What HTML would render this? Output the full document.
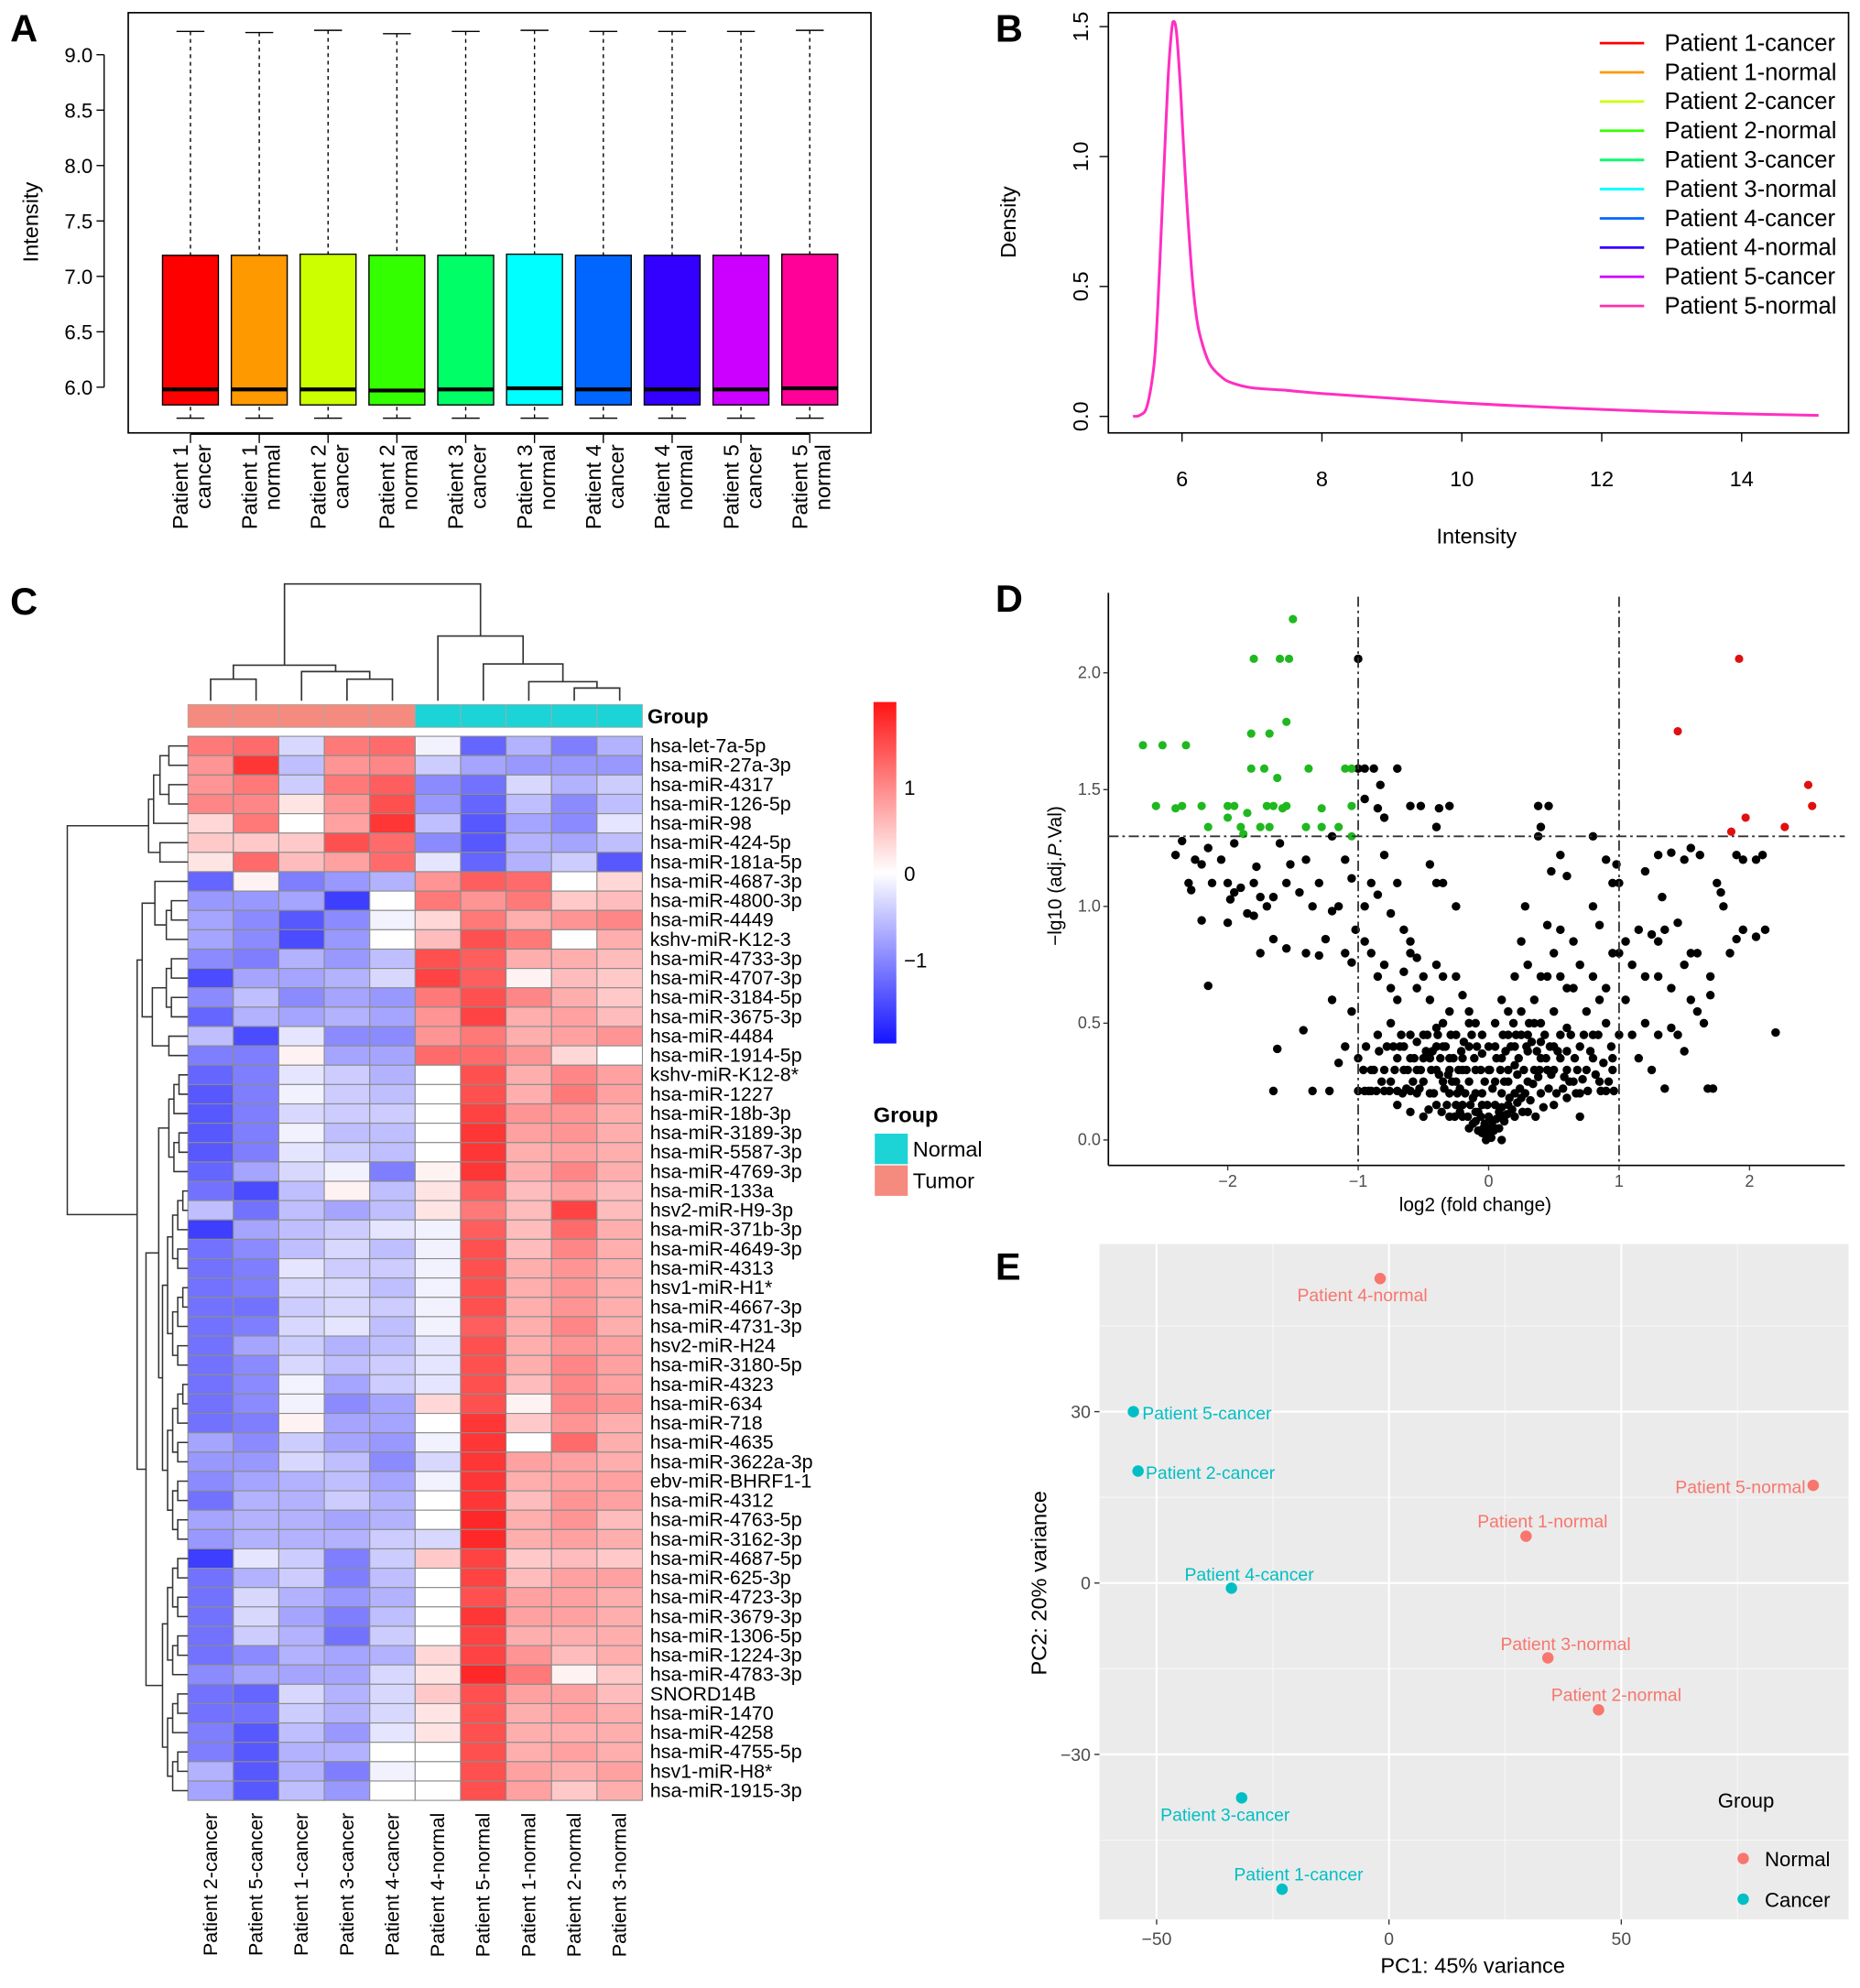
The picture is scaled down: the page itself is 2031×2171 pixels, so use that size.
<!DOCTYPE html>
<html><head><meta charset="utf-8">
<style>
html,body{margin:0;padding:0;background:#fff;}
svg{display:block;font-family:"Liberation Sans",Arial,sans-serif;}
</style></head>
<body>
<svg id="fig" xmlns="http://www.w3.org/2000/svg" width="2031" height="2171" viewBox="0 0 1465 1566">
<rect x="0" y="0" width="1465" height="1566" fill="#fff"/>
<g id="pA"></g>
<g id="pB"></g>
<g id="pC"></g>
<g id="pD"></g>
<g id="pE"></g>
</svg>
<script>
// ---------- Panel A data ----------
const boxSamples = ["Patient 1|cancer","Patient 1|normal","Patient 2|cancer","Patient 2|normal","Patient 3|cancer","Patient 3|normal","Patient 4|cancer","Patient 4|normal","Patient 5|cancer","Patient 5|normal"];
const boxLow = [5.72,5.72,5.72,5.72,5.72,5.72,5.72,5.72,5.72,5.72];
const boxQ1 = [5.84,5.84,5.84,5.84,5.84,5.84,5.84,5.84,5.84,5.84];
const boxMed = [5.98,5.98,5.98,5.97,5.98,5.99,5.98,5.98,5.98,5.99];
const boxQ3 = [7.19,7.19,7.20,7.19,7.19,7.20,7.19,7.19,7.19,7.20];
const boxHigh = [9.21,9.20,9.22,9.19,9.21,9.22,9.21,9.21,9.21,9.22];
const boxColors = ["#ff0000","#ff9900","#ccff00","#33ff00","#00ff66","#00ffff","#0066ff","#3300ff","#cc00ff","#ff0099"];
const aTicks = [6.0,6.5,7.0,7.5,8.0,8.5,9.0];
// ---------- Panel B data ----------
const densX = [5.3,5.4,5.5,5.6,5.65,5.7,5.75,5.8,5.85,5.88,5.92,5.97,6.02,6.08,6.15,6.22,6.3,6.4,6.55,6.7,7,7.5,8,9,10,11,12,13,14,15.1];
const densY = [0,0.005,0.04,0.2,0.4,0.7,1.0,1.3,1.48,1.52,1.48,1.3,1.05,0.78,0.52,0.36,0.27,0.2,0.155,0.13,0.11,0.1,0.088,0.07,0.052,0.038,0.027,0.017,0.01,0.004];
const bXTicks = [6,8,10,12,14];
const bYTicks = [0.0,0.5,1.0,1.5];
const legendNames = ["Patient 1-cancer","Patient 1-normal","Patient 2-cancer","Patient 2-normal","Patient 3-cancer","Patient 3-normal","Patient 4-cancer","Patient 4-normal","Patient 5-cancer","Patient 5-normal"];
const legendColors = ["#ff0000","#ff9900","#ccff00","#33ff00","#00ff66","#00ffff","#0066ff","#3300ff","#cc00ff","#ff33aa"];
// ---------- Panel C data ----------
const hmCols = ["Patient 2-cancer","Patient 5-cancer","Patient 1-cancer","Patient 3-cancer","Patient 4-cancer","Patient 4-normal","Patient 5-normal","Patient 1-normal","Patient 2-normal","Patient 3-normal"];
const hmGroups = ["Tumor","Tumor","Tumor","Tumor","Tumor","Normal","Normal","Normal","Normal","Normal"];
const hmRows = ["hsa-let-7a-5p","hsa-miR-27a-3p","hsa-miR-4317","hsa-miR-126-5p","hsa-miR-98","hsa-miR-424-5p","hsa-miR-181a-5p","hsa-miR-4687-3p","hsa-miR-4800-3p","hsa-miR-4449","kshv-miR-K12-3","hsa-miR-4733-3p","hsa-miR-4707-3p","hsa-miR-3184-5p","hsa-miR-3675-3p","hsa-miR-4484","hsa-miR-1914-5p","kshv-miR-K12-8*","hsa-miR-1227","hsa-miR-18b-3p","hsa-miR-3189-3p","hsa-miR-5587-3p","hsa-miR-4769-3p","hsa-miR-133a","hsv2-miR-H9-3p","hsa-miR-371b-3p","hsa-miR-4649-3p","hsa-miR-4313","hsv1-miR-H1*","hsa-miR-4667-3p","hsa-miR-4731-3p","hsv2-miR-H24","hsa-miR-3180-5p","hsa-miR-4323","hsa-miR-634","hsa-miR-718","hsa-miR-4635","hsa-miR-3622a-3p","ebv-miR-BHRF1-1","hsa-miR-4312","hsa-miR-4763-5p","hsa-miR-3162-3p","hsa-miR-4687-5p","hsa-miR-625-3p","hsa-miR-4723-3p","hsa-miR-3679-3p","hsa-miR-1306-5p","hsa-miR-1224-3p","hsa-miR-4783-3p","SNORD14B","hsa-miR-1470","hsa-miR-4258","hsa-miR-4755-5p","hsv1-miR-H8*","hsa-miR-1915-3p"];
const hmValues = [
[1.0,1.1,-0.3,1.0,1.1,-0.1,-1.2,-0.6,-1.0,-0.6],
[0.8,1.5,-0.5,0.8,0.9,-0.4,-0.7,-0.8,-0.8,-0.8],
[0.8,1.0,-0.4,1.0,1.2,-0.9,-1.1,-0.3,-0.6,-0.4],
[0.9,0.9,0.2,0.8,1.3,-0.8,-1.2,-0.5,-0.9,-0.5],
[0.3,1.0,0,0.7,1.5,-0.5,-1.3,-0.7,-0.9,-0.2],
[0.4,0.4,0.4,1.3,1.1,-0.9,-1.3,-0.6,-0.7,-0.5],
[0.2,1.1,0.5,0.7,1.1,-0.2,-1.2,-0.6,-0.4,-1.3],
[-1.2,0.1,-1.0,-0.8,-0.6,0.8,1.2,1.1,0,0.3],
[-0.8,-0.8,-0.7,-1.5,0,1.0,0.8,1.0,0.4,0.5],
[-0.7,-0.9,-1.3,-0.9,-0.1,0.3,1.0,0.6,0.8,0.9],
[-0.7,-0.9,-1.4,-0.8,0,0.5,1.3,1.0,0,0.6],
[-0.9,-1.0,-0.6,-0.8,-0.5,1.3,1.2,0.6,0.6,0.5],
[-1.4,-0.7,-0.7,-0.6,-0.3,1.4,1.2,0.1,0.5,0.4],
[-0.9,-0.5,-0.9,-0.7,-0.8,1.0,1.3,0.9,0.6,0.4],
[-1.2,-0.6,-0.7,-0.6,-0.7,0.8,1.4,0.6,0.7,0.5],
[-0.5,-1.4,-0.2,-0.9,-0.9,0.8,1.0,0.6,0.7,0.8],
[-1.0,-1.0,0.1,-0.7,-0.7,1.1,1.1,0.8,0.3,0],
[-1.2,-1.0,-0.2,-0.4,-0.6,0,1.3,0.6,0.9,0.7],
[-1.3,-1.0,-0.1,-0.4,-0.5,0,1.3,0.6,1.0,0.7],
[-1.3,-1.0,-0.3,-0.4,-0.4,0,1.4,0.8,0.8,0.6],
[-1.3,-1.0,-0.1,-0.5,-0.5,0,1.5,0.7,0.8,0.6],
[-1.3,-1.0,-0.2,-0.4,-0.5,0,1.5,0.6,0.7,0.6],
[-1.2,-0.7,-0.3,-0.1,-1.0,0.1,1.5,0.6,0.9,0.6],
[-1.1,-1.4,-0.5,0.1,-0.5,0.2,1.2,0.5,0.7,0.5],
[-0.5,-1.1,-0.5,-0.7,-0.5,0.2,1.0,0.5,1.4,0.5],
[-1.5,-0.7,-0.5,-0.4,-0.2,-0.1,1.2,0.5,1.1,0.6],
[-1.1,-0.9,-0.5,-0.3,-0.5,-0.1,1.3,0.5,0.9,0.6],
[-1.1,-1.0,-0.2,-0.4,-0.4,-0.1,1.3,0.6,0.8,0.6],
[-1.1,-1.0,-0.3,-0.3,-0.5,-0.1,1.3,0.6,0.8,0.6],
[-1.1,-1.1,-0.4,-0.3,-0.4,-0.1,1.3,0.6,0.8,0.6],
[-1.1,-1.0,-0.3,-0.2,-0.5,-0.1,1.2,0.6,0.9,0.6],
[-1.1,-0.7,-0.4,-0.6,-0.5,-0.2,1.3,0.6,0.8,0.7],
[-1.1,-0.9,-0.3,-0.5,-0.4,-0.2,1.3,0.6,0.9,0.7],
[-1.1,-0.9,-0.1,-0.7,-0.4,-0.2,1.3,0.5,0.9,0.7],
[-1.1,-0.9,-0.1,-0.9,-0.7,0.3,1.3,0.1,0.9,0.8],
[-1.1,-1.0,0.1,-0.7,-0.7,0,1.5,0.4,0.8,0.6],
[-0.7,-0.9,-0.4,-0.7,-0.8,-0.1,1.5,0,1.1,0.6],
[-0.8,-0.8,-0.3,-0.5,-0.9,-0.3,1.5,0.7,0.7,0.6],
[-0.9,-0.7,-0.6,-0.5,-0.7,-0.1,1.5,0.6,0.7,0.7],
[-1.1,-0.6,-0.6,-0.4,-0.6,0,1.5,0.5,0.8,0.7],
[-0.7,-0.6,-0.6,-0.7,-0.6,0,1.6,0.6,0.8,0.5],
[-0.8,-0.6,-0.6,-0.6,-0.4,-0.3,1.6,0.6,0.7,0.6],
[-1.5,-0.2,-0.4,-1.0,-0.4,0.4,1.4,0.4,0.5,0.4],
[-1.1,-0.6,-0.4,-1.0,-0.5,0,1.4,0.5,0.7,0.7],
[-1.1,-0.3,-0.6,-0.8,-0.6,0,1.3,0.7,0.7,0.6],
[-1.1,-0.3,-0.7,-1.0,-0.5,0,1.5,0.7,0.7,0.6],
[-1.1,-0.4,-0.6,-1.1,-0.4,0,1.4,0.6,0.6,0.6],
[-1.1,-0.9,-0.6,-0.7,-0.6,0.3,1.4,0.8,0.5,0.6],
[-0.9,-0.7,-0.7,-0.7,-0.3,0.2,1.6,1.0,0.1,0.4],
[-1.1,-1.2,-0.3,-0.6,-0.3,0.4,1.3,0.7,0.7,0.5],
[-1.1,-1.1,-0.4,-0.6,-0.3,0.2,1.3,0.6,0.7,0.6],
[-1.0,-1.3,-0.5,-0.8,-0.2,0.2,1.3,0.6,0.6,0.6],
[-1.0,-1.3,-0.6,-0.6,0,0,1.3,0.6,0.7,0.6],
[-0.6,-1.3,-0.6,-1.0,-0.1,0,1.3,0.7,0.6,0.7],
[-0.7,-1.3,-0.5,-0.8,0,0,1.3,0.7,0.4,0.6]
];
const cbTicks = [1,0,-1];
// ---------- Panel D data ----------
const greenPts = [[-2.65,1.69],[-2.5,1.69],[-2.32,1.69],[-2.55,1.43],[-2.4,1.42],[-2.35,1.43],[-2.2,1.43],[-2.0,1.43],[-1.95,1.43],[-1.7,1.43],[-1.65,1.43],[-1.55,1.43],[-1.28,1.42],[-1.05,1.43],[-2.0,1.38],[-1.9,1.34],[-1.85,1.40],[-2.15,1.34],[-1.75,1.34],[-1.68,1.34],[-1.4,1.34],[-1.28,1.34],[-1.15,1.34],[-1.88,1.31],[-1.05,1.30],[-1.82,1.59],[-1.72,1.59],[-1.62,1.55],[-1.38,1.59],[-1.1,1.59],[-1.05,1.59],[-1.82,1.74],[-1.68,1.74],[-1.55,1.79],[-1.8,2.06],[-1.6,2.06],[-1.53,2.06],[-1.5,2.23],[-1.58,1.42]];
const redPts = [[1.92,2.06],[1.45,1.75],[2.45,1.52],[2.48,1.43],[1.97,1.38],[1.86,1.32],[2.27,1.34]];
const blackPts = [[-1.0,2.06],[-1.0,1.59],[-0.95,1.59],[-0.88,1.59],[-0.7,1.59],[-0.95,1.46],[-0.6,1.43],[-0.52,1.43],[-0.38,1.42],[-0.3,1.43],[-0.4,1.34],[-0.83,1.52],[-0.85,1.42],[-0.8,1.38],[0.38,1.43],[0.46,1.43],[0.4,1.34],[0.38,1.30],[0.8,1.30],[
-2.4,1.22],[-2.35,1.28],[-2.3,1.1],[-2.28,1.07],[-2.25,1.2],[-2.2,1.18],[-2.15,1.25],[-2.12,1.1],[-2.05,1.2],[-2.0,1.1],[-1.98,1.03],[-1.95,1.06],[-1.9,1.08],[-1.85,0.97],[-1.8,1.1],[-1.78,1.17],[-1.75,1.04],[-1.7,1.0],[-1.65,1.04],[-1.6,1.27],[-1.55,1.1],[-1.52,1.18],[-1.45,1.06],[-1.4,1.2],[-1.35,1.0],[-1.3,1.1],[-1.25,0.86],[-1.2,1.3],[-1.15,1.0],[-1.1,1.2],[-1.05,1.12],[-1.02,0.9],[-0.95,1.0],[-0.9,1.1],[-0.85,1.05],[-0.8,1.22],[-0.75,0.97],[-0.7,1.1],[-0.65,0.9],[-0.6,0.85],[-0.55,0.78],[-0.45,1.18],[-0.4,1.1],[-0.35,1.1],[-0.25,1.0],[-2.2,0.94],[-2.0,0.93],[-1.95,1.27],[-2.15,0.66],[-1.8,0.96],[-1.65,0.86],[-1.75,0.8],[-1.55,0.82],[-1.4,0.8],[-1.3,0.79],[-1.2,0.98],[-1.1,0.8],[-1.05,0.76],[-1.2,0.6],[-1.05,0.55],[-0.95,0.85],[-0.9,0.8],[-0.85,0.7],[-0.8,0.75],[-0.75,0.65],[-0.7,0.6],[-0.65,0.72],[-0.6,0.8],[-0.55,0.65],[-0.5,0.7],[-0.45,0.6],[-0.4,0.75],[-0.35,0.7],[-0.3,0.55],[-0.25,0.7],[-0.2,0.62],[-0.15,0.55],[-0.1,0.5],[-1.42,0.47],[-1.62,0.39],[-1.65,0.21],[-1.35,0.21],[-1.22,0.21],[-1.15,0.33],[-1.1,0.4],[-1.0,0.35],[-0.95,0.21],[-0.9,0.3],[-0.8,0.21],[-0.85,0.45],[-0.75,0.5],[-0.7,0.35],[-0.65,0.4],[-0.6,0.45],[-0.55,0.3],[-0.5,0.45],[-0.45,0.35],[-0.4,0.48],[-0.35,0.4],[-0.3,0.3],[-0.25,0.45],[-0.2,0.35],[-0.15,0.4],[-0.1,0.3],[-0.05,0.2],[0.0,0.1],[
0.05,0.25],[0.1,0.35],[0.15,0.45],[0.2,0.4],[0.25,0.55],[0.3,0.45],[0.35,0.6],[0.4,0.5],[0.45,0.7],[0.5,0.55],[0.55,0.7],[0.6,0.48],[0.65,0.65],[0.7,0.4],[0.75,0.55],[0.8,0.45],[0.85,0.6],[0.9,0.5],[0.95,0.35],[1.0,0.45],[1.05,0.6],[1.1,0.45],[1.15,0.35],[1.2,0.5],[1.25,0.3],[1.3,0.45],[1.35,0.22],[1.4,0.48],[1.45,0.45],[1.5,0.38],[1.55,0.6],[1.6,0.55],[1.65,0.5],[1.7,0.62],[1.72,0.22],[1.68,0.22],[2.2,0.46],[0.2,0.7],[0.3,0.75],[0.4,0.7],[0.5,0.8],[0.6,0.65],[0.7,0.75],[0.8,0.7],[0.9,0.65],[1.0,0.8],[1.1,0.75],[1.2,0.7],[1.3,0.7],[1.4,0.65],[1.5,0.75],[1.6,0.8],[1.7,0.7],[0.25,0.85],[0.45,0.92],[0.55,0.9],[0.65,0.85],[0.85,0.92],[0.95,0.8],[1.05,0.85],[1.15,0.9],[1.25,0.88],[1.3,0.85],[1.35,0.9],[1.45,0.93],[1.55,0.8],[0.28,1.0],[0.8,1.0],[0.55,1.22],[0.48,1.15],[0.6,1.13],[0.9,1.2],[0.95,1.1],[0.98,1.18],[1.0,1.1],[1.2,1.15],[1.3,1.22],[1.33,1.04],[1.4,1.23],[1.5,1.2],[1.55,1.25],[1.62,1.22],[1.75,1.1],[1.78,1.06],[1.8,1.0],[1.85,0.8],[1.9,0.86],[1.95,0.9],[2.05,0.87],[2.12,0.9],[1.9,1.22],[1.95,1.2],[2.05,1.2],[2.1,1.22],[
-0.3,0.2],[-0.25,0.15],[-0.2,0.1],[-0.15,0.05],[-0.1,0.08],[-0.05,0.03],[0.0,0.02],[0.05,0.05],[0.1,0.1],[0.15,0.15],[0.2,0.2],[0.25,0.18],[0.3,0.25],[0.35,0.3],[0.4,0.35],[0.45,0.3],[0.5,0.4],[0.55,0.35],[0.6,0.3],[0.65,0.25],[0.7,0.2],[0.75,0.3],[0.8,0.35],[0.85,0.25],[0.9,0.21],[0.95,0.3],[-0.35,0.25],[-0.4,0.3],[-0.45,0.2],[-0.5,0.25],[-0.55,0.2],[-0.6,0.21],[-0.65,0.3],[-0.7,0.21],[-0.75,0.25],[-0.8,0.3],[-0.9,0.21],[-1.0,0.21],[-0.05,0.15],[0.05,0.15],[-0.1,0.2],[0.1,0.2],[-0.15,0.25],[0.15,0.3],[-0.2,0.3],[0.2,0.32],[-0.08,0.12],[0.08,0.12],[0.0,0.05],[-0.03,0.07],[0.03,0.08],[-0.12,0.18],[0.12,0.25],[-0.22,0.22],[0.22,0.28],[-0.3,0.35],[0.3,0.38],[-0.4,0.4],[0.4,0.42],[-0.5,0.35],[0.5,0.3],[-0.6,0.35],[0.6,0.38],[-0.3,0.1],[0.3,0.12],[-0.4,0.15],[0.4,0.2],[-0.5,0.1],[0.5,0.15],[-0.6,0.12],[0.6,0.18],[0.7,0.1],[-0.7,0.15],[0.0,0.3],[0.0,0.4],[0.05,0.5],[-0.05,0.45],[0.1,0.6],[0.15,0.55],[0.1,0.0],[-0.02,0.0]
];
const blobPts = [[-0.02,0.02],[0.02,0.01],[-0.04,0.05],[0.04,0.04],[-0.06,0.1],[0.06,0.09],[-0.08,0.04],[0.08,0.05],[-0.1,0.12],[0.1,0.14],[-0.12,0.07],[0.12,0.08],[-0.14,0.15],[0.14,0.11],[-0.16,0.1],[0.16,0.18],[-0.18,0.2],[0.18,0.13],[-0.2,0.15],[0.2,0.1],[-0.22,0.12],[0.22,0.16],[-0.24,0.2],[0.24,0.22],[-0.26,0.1],[0.26,0.12],[-0.28,0.25],[0.28,0.2],[-0.32,0.15],[0.32,0.17],[-0.34,0.22],[0.34,0.24],[-0.36,0.12],[0.36,0.1],[-0.38,0.28],[0.38,0.27],[-0.42,0.2],[0.42,0.14],[-0.44,0.3],[0.44,0.35],[-0.46,0.13],[0.46,0.22],[-0.48,0.38],[0.48,0.28],[-0.52,0.3],[0.52,0.2],[-0.55,0.42],[0.55,0.45],[-0.58,0.25],[0.58,0.27],[-0.62,0.3],[0.62,0.25],[-0.66,0.2],[0.66,0.35],[-0.68,0.4],[0.68,0.3],[-0.72,0.3],[0.72,0.26],[-0.76,0.21],[0.76,0.21],[-0.82,0.25],[0.82,0.28],[-0.86,0.21],[0.86,0.21],[-0.88,0.3],[0.88,0.33],[-0.92,0.21],[0.92,0.25],[-0.96,0.3],[0.96,0.21],[-0.03,0.25],[0.03,0.22],[-0.06,0.3],[0.06,0.35],[-0.09,0.4],[0.09,0.3],[-0.11,0.35],[0.11,0.45],[-0.13,0.45],[0.13,0.38],[-0.17,0.3],[0.17,0.4],[-0.19,0.42],[0.19,0.5],[-0.21,0.38],[0.21,0.45],[-0.23,0.3],[0.23,0.35],[-0.27,0.35],[0.27,0.3],[-0.29,0.45],[0.29,0.4],[-0.31,0.28],[0.31,0.5],[-0.33,0.4],[0.33,0.42],[-0.37,0.35],[0.37,0.38],[-0.39,0.45],[0.39,0.3],[-0.43,0.38],[0.43,0.45],[-0.47,0.45],[0.47,0.4],[-0.53,0.22],[0.53,0.38],[-0.57,0.35],[0.57,0.22],[-0.63,0.22],[0.63,0.45],[-0.67,0.45],[0.67,0.2],[-0.73,0.4],[0.73,0.45],[-0.78,0.4],[0.78,0.38],[-0.84,0.38],[0.84,0.45],[-0.94,0.4],[0.94,0.4],[-0.01,0.15],[0.01,0.3],[-0.05,0.37],[0.05,0.4],[-0.15,0.5],[0.15,0.25],[0.25,0.45],[-0.25,0.25],[0.35,0.5],[-0.35,0.5]];
const dXTicks = [-2,-1,0,1,2];
const dYTicks = [0.0,0.5,1.0,1.5,2.0];
// ---------- Panel E data ----------
const pcaNames = ["Patient 4-normal","Patient 5-cancer","Patient 2-cancer","Patient 5-normal","Patient 1-normal","Patient 4-cancer","Patient 3-normal","Patient 2-normal","Patient 3-cancer","Patient 1-cancer"];
const pcaPC1 = [-1.9,-55,-54,91.3,29.5,-33.9,34.2,45.1,-31.7,-23];
const pcaPC2 = [53.3,30,19.6,17.1,8.2,-0.9,-13.1,-22.2,-37.6,-53.6];
const pcaGroup = ["Normal","Cancer","Cancer","Normal","Normal","Cancer","Normal","Normal","Cancer","Cancer"];
const eXTicks = [-50,0,50];
const eYTicks = [-30,0,30];

const NS = "http://www.w3.org/2000/svg";
function mk(parent, tag, attrs, text){
  const e = document.createElementNS(NS, tag);
  for (const k in attrs) e.setAttribute(k, attrs[k]);
  if (text !== undefined) e.textContent = text;
  parent.appendChild(e);
  return e;
}
function label(parent, x, y, s, size, anchor, weight){
  return mk(parent,'text',{x:x,y:y,'font-size':size,'text-anchor':anchor||'start','font-weight':weight||'normal',fill:'#000'},s);
}

const fig = document.getElementById('fig');
[["A",8,33],["B",784,33],["C",8,484],["D",784,482],["E",784,1008]].forEach(p=>{
  const t = label(fig,p[1],p[2],p[0],30,'start','bold');
  
  
});

// ---------- Panel A ----------
(function(){
  const g = document.getElementById('pA');
  const L=101,R=686,T=10,B=341;
  const y = v => 305 - (v-6)*87.3;
  const x = i => 150 + i*54.2;
  const fr = mk(g,'rect',{x:L,y:T,width:R-L,height:B-T,fill:'none',stroke:'#000','stroke-width':1.2});
  
  
  mk(g,'line',{x1:82,y1:y(6),x2:82,y2:y(9),stroke:'#000'});
  aTicks.forEach(t=>{
    mk(g,'line',{x1:76,y1:y(t),x2:82,y2:y(t),stroke:'#000'});
    const tl = label(g,73,y(t)+6,t.toFixed(1),16,'end');
    
    
  });
  const yt = label(g,0,0,'Intensity',17,'middle');
  yt.setAttribute('transform','translate(30,175) rotate(-90)');
  
  
  const hw = 22;
  boxSamples.forEach((s,i)=>{
    const cx = x(i);
    const bg = mk(g,'g',{});
    
    
    mk(bg,'line',{x1:cx,y1:y(boxHigh[i]),x2:cx,y2:y(boxQ3[i]),stroke:'#000','stroke-dasharray':'3,3'});
    mk(bg,'line',{x1:cx,y1:y(boxLow[i]),x2:cx,y2:y(boxQ1[i]),stroke:'#000','stroke-dasharray':'3,3'});
    mk(bg,'line',{x1:cx-11,y1:y(boxHigh[i]),x2:cx+11,y2:y(boxHigh[i]),stroke:'#000'});
    mk(bg,'line',{x1:cx-11,y1:y(boxLow[i]),x2:cx+11,y2:y(boxLow[i]),stroke:'#000'});
    mk(bg,'rect',{x:cx-hw,y:y(boxQ3[i]),width:hw*2,height:y(boxQ1[i])-y(boxQ3[i]),fill:boxColors[i],stroke:'#000'});
    mk(bg,'line',{x1:cx-hw,y1:y(boxMed[i]),x2:cx+hw,y2:y(boxMed[i]),stroke:'#000','stroke-width':3});
    mk(g,'line',{x1:cx,y1:B+1,x2:cx,y2:B+8,stroke:'#000'});
    const parts = s.split('|');
    const t1 = label(g,0,0,parts[0],17,'end');
    t1.setAttribute('transform','translate('+(cx-2)+',350) rotate(-90)');
    
    
    const t2 = label(g,0,0,parts[1],17,'end');
    t2.setAttribute('transform','translate('+(cx+16)+',350) rotate(-90)');
    
    
  });
  mk(g,'line',{x1:x(0),y1:B+1,x2:x(9),y2:B+1,stroke:'#000'});
})();

// ---------- Panel B ----------
(function(){
  const g = document.getElementById('pB');
  const L=873,R=1456,T=10,B=341;
  const x = v => 931 + (v-6)*55.1;
  const y = v => 328 - v*204.7;
  const fr = mk(g,'rect',{x:L,y:T,width:R-L,height:B-T,fill:'none',stroke:'#000','stroke-width':1.2});
  
  
  bXTicks.forEach(t=>{
    mk(g,'line',{x1:x(t),y1:B,x2:x(t),y2:B+7,stroke:'#000'});
    const tl = label(g,x(t),383,String(t),17,'middle');
    
    
  });
  mk(g,'line',{x1:x(6),y1:B,x2:x(14),y2:B,stroke:'#000'});
  bYTicks.forEach(t=>{
    mk(g,'line',{x1:L-7,y1:y(t),x2:L,y2:y(t),stroke:'#000'});
    const tl = label(g,0,0,t.toFixed(1),17,'middle');
    tl.setAttribute('transform','translate('+(L-16)+','+y(t)+') rotate(-90)');
    
    
  });
  const xt = label(g,1163,428,'Intensity',17,'middle');
  
  
  const yt = label(g,0,0,'Density',17,'middle');
  yt.setAttribute('transform','translate(800,175) rotate(-90)');
  
  
  // smooth curve (Catmull-Rom through data points)
  const P = densX.map((v,i)=>[x(v),y(densY[i])]);
  let d = 'M'+P[0][0].toFixed(1)+','+P[0][1].toFixed(1);
  for (let i=0;i<P.length-1;i++){
    const p0=P[Math.max(i-1,0)], p1=P[i], p2=P[i+1], p3=P[Math.min(i+2,P.length-1)];
    const c1=[p1[0]+(p2[0]-p0[0])/6, p1[1]+(p2[1]-p0[1])/6];
    const c2=[p2[0]-(p3[0]-p1[0])/6, p2[1]-(p3[1]-p1[1])/6];
    d += 'C'+c1[0].toFixed(1)+','+c1[1].toFixed(1)+' '+c2[0].toFixed(1)+','+c2[1].toFixed(1)+' '+p2[0].toFixed(1)+','+p2[1].toFixed(1);
  }
  const ln = mk(g,'path',{d:d,fill:'none',stroke:'#ff2fc0','stroke-width':2.2,'stroke-linejoin':'round'});
  
  
  legendNames.forEach((n,i)=>{
    const ly = 34 + i*23;
    const lg = mk(g,'g',{});
    
    
    mk(lg,'line',{x1:1260,y1:ly,x2:1295,y2:ly,stroke:legendColors[i],'stroke-width':2});
    label(lg,1311,ly+6,n,18.5,'start');
  });
})();

// ---------- Panel C ----------
(function(){
  const g = document.getElementById('pC');
  const L=148, W=35.8, T=580, H=15.24;
  const cx = j => L + j*W;
  const ry = i => T + i*H;
  function col(v){
    const t = Math.min(Math.abs(v)/1.75,1);
    if (v>=0) return 'rgb(255,'+Math.round(255-t*235)+','+Math.round(255-t*235)+')';
    return 'rgb('+Math.round(255-t*225)+','+Math.round(255-t*225)+',255)';
  }
  hmGroups.forEach((gr,j)=>{
    const r = mk(g,'rect',{x:cx(j),y:555,width:W,height:18,fill:gr==='Tumor'?'#f58a7e':'#1cd3d6',stroke:'#aaa','stroke-width':0.6});
    
    
  });
  const gl = label(g,510,570,'Group',16,'start','bold');
  
  
  hmValues.forEach((row,i)=>{
    row.forEach((v,j)=>{
      const c = mk(g,'rect',{x:cx(j),y:ry(i),width:W,height:H,fill:col(v),stroke:'#8c8c8c','stroke-width':0.8});
      
      
    });
    const t = label(g,512,ry(i)+H/2+5,hmRows[i],15.5,'start');
    
    
  });
  hmCols.forEach((n,j)=>{
    const t = label(g,0,0,n,15.5,'end');
    t.setAttribute('transform','translate('+(cx(j)+W/2+5)+',1428) rotate(-90)');
    
    
  });
  const dg = mk(g,'g',{stroke:'#333','stroke-width':1.2,fill:'none'});
  
  
  const leafY = 552;
  function bracket(x1,y1,x2,y2,h){ mk(dg,'path',{d:'M'+x1+','+y1+'V'+h+'H'+x2+'V'+y2}); }
  const c = j => cx(j)+W/2;
  bracket(c(0),leafY,c(1),leafY,535);
  bracket(c(3),leafY,c(4),leafY,535);
  bracket(c(2),leafY,(c(3)+c(4))/2,535,529);
  const l1=(c(0)+c(1))/2, l2=(c(2)+(c(3)+c(4))/2)/2;
  bracket(l1,535,l2,529,524);
  bracket(c(8),leafY,c(9),leafY,542);
  const r89=(c(8)+c(9))/2;
  bracket(c(7),leafY,r89,542,537);
  const r7=(c(7)+r89)/2;
  bracket(c(6),leafY,r7,537,523);
  const r6=(c(6)+r7)/2;
  bracket(c(5),leafY,r6,523,501);
  const r5=(c(5)+r6)/2;
  bracket((l1+l2)/2,524,r5,501,460);
  const rg = mk(g,'g',{stroke:'#333','stroke-width':1.1,fill:'none'});
  
  
  function hb(n1,n2,x){ mk(rg,'path',{d:'M'+n1.x+','+n1.y+'H'+x+'V'+n2.y+'H'+n2.x}); return {x:x,y:(n1.y+n2.y)/2}; }
  function leaf(i){ return {x:L,y:ry(i)+H/2}; }
  function auto(lo,hi,x){
    if (lo===hi) return leaf(lo);
    const mid = Math.floor((lo+hi)/2);
    const nx = Math.min(x+4,144);
    return hb(auto(lo,mid,nx),auto(mid+1,hi,nx),x);
  }
  const top = hb(hb(hb(auto(0,1,133),auto(2,3,133),126),leaf(4),121),auto(5,6,126),117);
  const A = hb(leaf(7),auto(8,10,131),122);
  const Bn = hb(auto(11,14,131),auto(15,16,133),120);
  const AB = hb(A,Bn,112);
  const C1 = hb(auto(17,22,133),auto(23,41,128),125);
  const C2 = auto(42,54,128);
  const Cn = hb(C1,C2,115);
  const bottom = hb(AB,Cn,108);
  hb(top,bottom,53);
  const defs = mk(fig,'defs',{});
  const lgd = mk(defs,'linearGradient',{id:'ck',x1:0,y1:0,x2:0,y2:1});
  [[0,'#ff1414'],[0.5,'#ffffff'],[1,'#1414ff']].forEach(s=>mk(lgd,'stop',{offset:s[0],'stop-color':s[1]}));
  const ck = mk(g,'rect',{x:688,y:553,width:18,height:269,fill:'url(#ck)'});
  
  
  cbTicks.forEach(t=>{
    const tl = label(g,712,688-t*68+6,t<0?'\u22121':String(t),16,'start');
    
    
  });
  const lt = label(g,688,884,'Group',17,'start','bold');
  
  
  [['Normal','#1cd3d6',893],['Tumor','#f58a7e',918]].forEach(e=>{
    const eg = mk(g,'g',{});
    
    
    mk(eg,'rect',{x:689,y:e[2],width:26,height:24,fill:e[1]});
    label(eg,719,e[2]+18,e[0],17,'start');
  });
})();

// ---------- Panel D ----------
(function(){
  const g = document.getElementById('pD');
  const x = v => 1172.5 + v*102.75;
  const y = v => 898 - v*184;
  const L=873,R=1453,T=467,B=918;
  mk(g,'line',{x1:L,y1:T,x2:L,y2:B,stroke:'#000','stroke-width':1.2});
  mk(g,'line',{x1:L,y1:B,x2:R,y2:B,stroke:'#000','stroke-width':1.2});
  dXTicks.forEach(t=>{
    mk(g,'line',{x1:x(t),y1:B,x2:x(t),y2:B+4,stroke:'#333'});
    const tl = label(g,x(t),B+17,t<0?'\u2212'+Math.abs(t):String(t),13,'middle');
    tl.setAttribute('fill','#4d4d4d');
    
    
  });
  dYTicks.forEach(t=>{
    mk(g,'line',{x1:L-4,y1:y(t),x2:L,y2:y(t),stroke:'#333'});
    const tl = label(g,L-6,y(t)+4,t.toFixed(1),13,'end');
    tl.setAttribute('fill','#4d4d4d');
    
    
  });
  const xt = label(g,1162,954,'log2 (fold change)',15,'middle');
  
  
  const yt = mk(g,'text',{'font-size':15,'text-anchor':'middle',transform:'translate(836,690) rotate(-90)'});
  yt.textContent = '\u2212lg10 (adj.';
  mk(yt,'tspan',{'font-style':'italic'},'P');
  mk(yt,'tspan',{},'.Val)');
  
  
  const pts = mk(g,'g',{});
  
  
  blackPts.concat(blobPts).forEach(p=>{
    const c = mk(pts,'circle',{cx:x(p[0]),cy:y(p[1]),r:3.4,fill:'#000'});
    
    
  });
  greenPts.forEach(p=>{
    const c = mk(pts,'circle',{cx:x(p[0]),cy:y(p[1]),r:3.3,fill:'#1fb81f'});
    
    
  });
  redPts.forEach(p=>{
    const c = mk(pts,'circle',{cx:x(p[0]),cy:y(p[1]),r:3.3,fill:'#e01010'});
    
    
  });
  const dash = {stroke:'#333','stroke-width':1.3,'stroke-dasharray':'8,3,2,3',fill:'none'};
  const v1 = mk(g,'line',Object.assign({x1:x(-1),y1:T+3,x2:x(-1),y2:B},dash));
  
  
  const v2 = mk(g,'line',Object.assign({x1:x(1),y1:T+3,x2:x(1),y2:B},dash));
  
  
  const h1 = mk(g,'line',Object.assign({x1:L,y1:y(1.3),x2:R,y2:y(1.3)},dash));
  
  
})();

// ---------- Panel E ----------
(function(){
  const g = document.getElementById('pE');
  const L=866,R=1456,T=980,B=1512;
  const x = v => 1094 + v*3.66;
  const y = v => 1247 - v*4.5;
  const bg = mk(g,'rect',{x:L,y:T,width:R-L,height:B-T,fill:'#ebebeb'});
  
  
  [-75,-25,25,75].forEach(v=>{ if(x(v)>L&&x(v)<R) mk(g,'line',{x1:x(v),y1:T,x2:x(v),y2:B,stroke:'#f7f7f7','stroke-width':0.8}); });
  [-45,-15,15,45].forEach(v=>mk(g,'line',{x1:L,y1:y(v),x2:R,y2:y(v),stroke:'#f7f7f7','stroke-width':0.8}));
  eXTicks.forEach(t=>{
    mk(g,'line',{x1:x(t),y1:T,x2:x(t),y2:B,stroke:'#fff','stroke-width':1.6});
    mk(g,'line',{x1:x(t),y1:B,x2:x(t),y2:B+4,stroke:'#333'});
    const tl = label(g,x(t),B+20,t<0?'\u2212'+Math.abs(t):String(t),14,'middle');
    tl.setAttribute('fill','#4d4d4d');
    
    
  });
  eYTicks.forEach(t=>{
    mk(g,'line',{x1:L,y1:y(t),x2:R,y2:y(t),stroke:'#fff','stroke-width':1.6});
    mk(g,'line',{x1:L-4,y1:y(t),x2:L,y2:y(t),stroke:'#333'});
    const tl = label(g,L-7,y(t)+5,t<0?'\u2212'+Math.abs(t):String(t),14,'end');
    tl.setAttribute('fill','#4d4d4d');
    
    
  });
  const xt = label(g,1160,1554,'PC1: 45% variance',17,'middle');
  
  
  const yt = label(g,0,0,'PC2: 20% variance',17,'middle');
  yt.setAttribute('transform','translate(824,1247) rotate(-90)');
  
  
  const labelOffsets = [[-14,18,'middle'],[7,6,'start'],[6,6,'start'],[-6,6,'end'],[13,-7,'middle'],[14,-6,'middle'],[14,-6,'middle'],[14,-7,'middle'],[-13,18,'middle'],[13,-7,'middle']];
  pcaNames.forEach((n,i)=>{
    const colr = pcaGroup[i]==='Normal' ? '#f8766d' : '#00bfc4';
    const pg = mk(g,'g',{});
    
    
    mk(pg,'circle',{cx:x(pcaPC1[i]),cy:y(pcaPC2[i]),r:4.5,fill:colr});
    const o = labelOffsets[i];
    mk(pg,'text',{x:x(pcaPC1[i])+o[0],y:y(pcaPC2[i])+o[1],'font-size':14,'text-anchor':o[2],fill:colr},n);
  });
  const lt = label(g,1353,1424,'Group',16,'start');
  
  
  [['Normal','#f8766d',1464],['Cancer','#00bfc4',1496]].forEach(e=>{
    const eg = mk(g,'g',{});
    
    
    mk(eg,'circle',{cx:1373,cy:e[2],r:4.5,fill:e[1]});
    label(eg,1390,e[2]+6,e[0],16,'start');
  });
})();
</script>
</body></html>
